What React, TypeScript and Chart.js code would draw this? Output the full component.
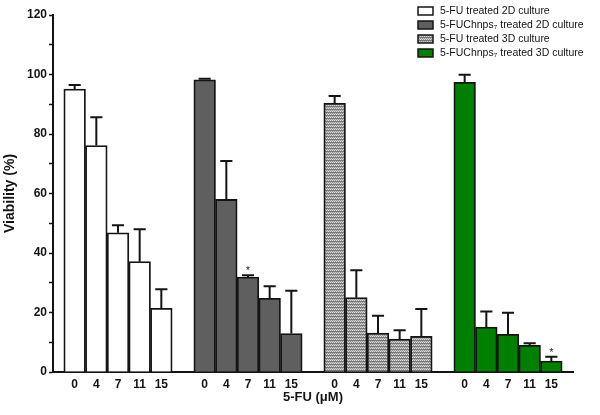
import React, { useEffect, useRef } from 'react';
import { Chart, registerables } from 'chart.js';

Chart.register(...registerables);

const doses = ['0', '4', '7', '11', '15'];
const seriesLabels = [
  '5-FU treated 2D culture',
  '5-FUChnps\u2087 treated 2D culture',
  '5-FU treated 3D culture',
  '5-FUChnps\u2087 treated 3D culture',
];
const fu2D = [95.1, 76.1, 46.8, 37.1, 21.4];
const fu2DErr = [1.4, 9.5, 2.5, 10.9, 6.4];
const nano2D = [98.2, 58.0, 31.9, 24.8, 12.9];
const nano2DErr = [0.4, 12.9, 0.6, 4.0, 14.4];
const fu3D = [90.3, 25.0, 13.1, 11.1, 12.0];
const fu3DErr = [2.5, 9.2, 5.8, 2.9, 9.2];
const nano3D = [97.4, 15.1, 12.7, 9.0, 3.7];
const nano3DErr = [2.5, 5.2, 7.2, 0.7, 1.4];
const fu2DStar = [false, false, false, false, false];
const nano2DStar = [false, false, true, false, false];
const fu3DStar = [false, false, false, false, false];
const nano3DStar = [false, false, false, false, true];
const yTicks = [0, 20, 40, 60, 80, 100, 120];

const FONT = "'Liberation Sans', Arial, sans-serif";
const INK = '#141414';

function makePattern(): CanvasPattern | string {
  const c = document.createElement('canvas');
  c.width = 4;
  c.height = 3;
  const g = c.getContext('2d');
  if (!g) return '#aaaaaa';
  g.fillStyle = '#969696';
  g.fillRect(0, 0, 4, 3);
  g.fillStyle = '#dedede';
  g.fillRect(0, 0, 1, 1);
  g.fillRect(2, 0, 1, 1);
  g.fillStyle = '#767676';
  g.fillRect(0, 1, 4, 1);
  g.fillStyle = '#c8c8c8';
  g.fillRect(1, 2, 1, 1);
  g.fillRect(3, 2, 1, 1);
  const p = g.createPattern(c, 'repeat');
  return p || '#aaaaaa';
}

export default function App() {
  const ref = useRef<HTMLCanvasElement | null>(null);

  useEffect(() => {
    if (!ref.current) return;
    const groups = [
      { label: seriesLabels[0], vals: fu2D, errs: fu2DErr, stars: fu2DStar, color: '#ffffff' as any },
      { label: seriesLabels[1], vals: nano2D, errs: nano2DErr, stars: nano2DStar, color: '#5f5f5f' as any },
      { label: seriesLabels[2], vals: fu3D, errs: fu3DErr, stars: fu3DStar, color: makePattern() as any },
      { label: seriesLabels[3], vals: nano3D, errs: nano3DErr, stars: nano3DStar, color: '#008000' as any },
    ];
    const labels: string[] = [''];
    groups.forEach(() => {
      doses.forEach((d) => labels.push(d));
      labels.push('');
    });
    const n = labels.length;
    const datasets = groups.map((g, gi) => {
      const data: (number | null)[] = new Array(n).fill(null);
      const errs: (number | null)[] = new Array(n).fill(null);
      const stars: boolean[] = new Array(n).fill(false);
      g.vals.forEach((v, i) => {
        const idx = 1 + gi * 6 + i;
        data[idx] = v;
        errs[idx] = g.errs[i];
        stars[idx] = g.stars[i];
      });
      return {
        label: g.label,
        data,
        errs,
        stars,
        backgroundColor: g.color,
        borderColor: INK,
        borderWidth: 1.8,
        grouped: false,
        barPercentage: 1,
        categoryPercentage: 1,
      } as any;
    });

    const errorBars = {
      id: 'errorBars',
      afterDatasetsDraw(chart: any) {
        const ctx = chart.ctx;
        const y = chart.scales.y;
        ctx.save();
        chart.data.datasets.forEach((ds: any, di: number) => {
          const meta = chart.getDatasetMeta(di);
          meta.data.forEach((el: any, i: number) => {
            const v = ds.data[i];
            const e = ds.errs[i];
            if (v == null || e == null) return;
            const top = y.getPixelForValue(v + e);
            const half = el.width * 0.28;
            ctx.strokeStyle = INK;
            ctx.lineWidth = 2;
            ctx.beginPath();
            ctx.moveTo(el.x, el.y);
            ctx.lineTo(el.x, top);
            ctx.moveTo(el.x - half, top);
            ctx.lineTo(el.x + half, top);
            ctx.stroke();
            if (ds.stars[i]) {
              ctx.fillStyle = INK;
              ctx.font = `10px ${FONT}`;
              ctx.textAlign = 'center';
              ctx.textBaseline = 'alphabetic';
              ctx.fillText('*', el.x, top - 1);
            }
          });
        });
        ctx.restore();
      },
    };

    const legendPlugin = {
      id: 'overlayLegend',
      afterDraw(chart: any) {
        const ctx = chart.ctx;
        const x0 = chart.width - 182;
        ctx.save();
        ctx.font = `10.5px ${FONT}`;
        ctx.textBaseline = 'middle';
        ctx.textAlign = 'left';
        chart.data.datasets.forEach((ds: any, i: number) => {
          const cy = 11 + i * 14;
          ctx.fillStyle = ds.backgroundColor;
          ctx.fillRect(x0, cy - 4, 15, 8);
          ctx.strokeStyle = INK;
          ctx.lineWidth = 1.5;
          ctx.strokeRect(x0, cy - 4, 15, 8);
          ctx.fillStyle = INK;
          ctx.fillText(ds.label, x0 + 22, cy);
        });
        ctx.restore();
      },
    };

    const chart = new Chart(ref.current, {
      type: 'bar',
      data: { labels, datasets },
      options: {
        animation: false,
        responsive: true,
        maintainAspectRatio: false,
        layout: { padding: { left: 0, top: 15, right: 27, bottom: 0 } },
        plugins: { legend: { display: false }, tooltip: { enabled: false } },
        scales: {
          x: {
            type: 'category',
            offset: false,
            afterFit: (s: any) => {
              s.height = 43;
            },
            grid: { display: false, drawTicks: false, tickLength: 0 },
            border: { display: true, color: INK, width: 2 },
            ticks: {
              autoSkip: false,
              maxRotation: 0,
              padding: 5,
              color: INK,
              font: { family: FONT, size: 12, weight: 'bold' },
            },
            title: {
              display: true,
              text: '5-FU (\u03bcM)',
              color: INK,
              font: { family: FONT, size: 13, weight: 'bold' },
              padding: { top: 0, bottom: 10 },
            },
          },
          y: {
            min: 0,
            max: 120,
            afterFit: (s: any) => {
              s.width = 53;
            },
            grid: {
              display: true,
              drawOnChartArea: false,
              drawTicks: true,
              tickLength: 4,
              tickColor: INK,
              tickWidth: 1.5,
            },
            border: { display: true, color: INK, width: 2 },
            ticks: {
              stepSize: 10,
              padding: 2,
              color: INK,
              font: { family: FONT, size: 12, weight: 'bold' },
              callback: (v: any) => (yTicks.includes(Number(v)) ? String(v) : ''),
            },
            title: {
              display: true,
              text: 'Viability (%)',
              color: INK,
              font: { family: FONT, size: 14, weight: 'bold' },
              padding: { top: 2, bottom: 0 },
            },
          },
        },
      } as any,
      plugins: [errorBars, legendPlugin],
    });
    return () => chart.destroy();
  }, []);

  return (
    <div style={{ position: 'absolute', left: 0, top: 0, width: 600, height: 415, background: '#fff' }}>
      <canvas ref={ref} />
    </div>
  );
}
